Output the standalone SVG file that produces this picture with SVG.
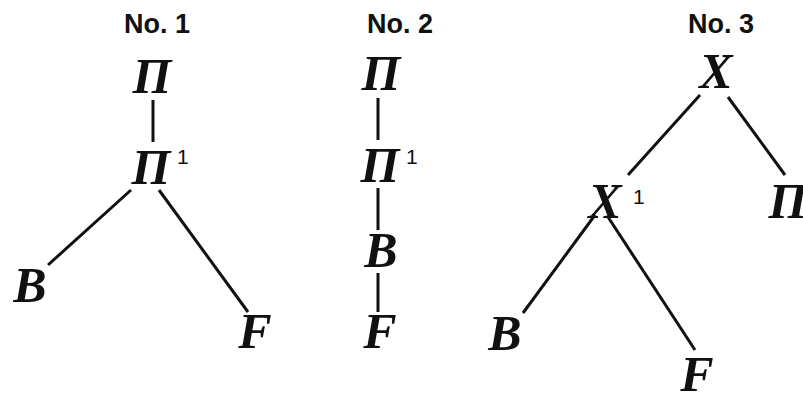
<svg xmlns="http://www.w3.org/2000/svg" width="803" height="394" viewBox="0 0 803 394">
<style>
.h{font-family:"Liberation Sans",Arial,sans-serif;font-weight:bold;font-size:27px;fill:#111;text-anchor:middle}
.v{font-family:"Liberation Serif","Times New Roman",serif;font-weight:bold;font-style:italic;font-size:50px;fill:#111;text-anchor:middle}
.s{font-family:"Liberation Sans",Arial,sans-serif;font-size:21px;fill:#111}
.e line{stroke:#111;stroke-width:3;stroke-linecap:butt}
</style>
<rect width="803" height="394" fill="#fff"/>
<g class="e" id="connectors">
<line x1="153" y1="100" x2="153" y2="142"/>
<line x1="131" y1="190" x2="48" y2="265"/>
<line x1="159" y1="190" x2="248" y2="312"/>
<line x1="378" y1="98" x2="378" y2="140"/>
<line x1="378" y1="188" x2="378" y2="230"/>
<line x1="378" y1="273" x2="378" y2="312"/>
<line x1="700" y1="95" x2="628" y2="175"/>
<line x1="728" y1="97" x2="785" y2="175"/>
<line x1="595" y1="215" x2="523" y2="313"/>
<line x1="608" y1="217" x2="695" y2="350"/>
</g>
<g id="t1"><text class="h" x="157" y="33">No. 1</text></g>
<g id="n1a"><text class="v" x="152" y="93">П</text></g>
<g id="n1b"><text class="v" x="151" y="184">П</text><text class="s" x="177" y="164">1</text></g>
<g id="n1c"><text class="v" x="30" y="302">B</text></g>
<g id="n1d"><text class="v" x="255" y="348">F</text></g>
<g id="t2"><text class="h" x="400" y="33">No. 2</text></g>
<g id="n2a"><text class="v" x="381" y="90">П</text></g>
<g id="n2b"><text class="v" x="380" y="182">П</text><text class="s" x="406" y="164">1</text></g>
<g id="n2c"><text class="v" x="381" y="267">B</text></g>
<g id="n2d"><text class="v" x="380" y="348">F</text></g>
<g id="t3"><text class="h" x="721" y="33">No. 3</text></g>
<g id="n3a"><text class="v" x="716" y="88">X</text></g>
<g id="n3b"><text class="v" x="605" y="218">X</text><text class="s" x="633" y="204">1</text></g>
<g id="n3c"><text class="v" x="788" y="218">П</text></g>
<g id="n3d"><text class="v" x="505" y="350">B</text></g>
<g id="n3e"><text class="v" x="697" y="391">F</text></g>
</svg>
